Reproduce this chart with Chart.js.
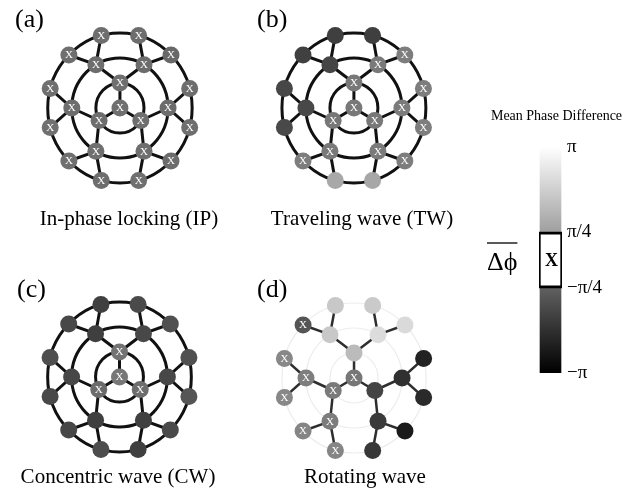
<!DOCTYPE html>
<html>
<head>
<meta charset="utf-8">
<script src="https://cdn.jsdelivr.net/npm/chart.js@4.4.1/dist/chart.umd.min.js"></script>
<style>
  html, body { margin: 0; padding: 0; background: #fff; }
  body { width: 633px; height: 503px; position: relative; overflow: hidden; }
  canvas { position: absolute; }
</style>
</head>
<body>
<canvas id="panelA" width="243" height="235" style="left:0;top:0"></canvas>
<canvas id="panelB" width="227" height="235" style="left:240px;top:0"></canvas>
<canvas id="panelC" width="219" height="233" style="left:0;top:270px"></canvas>
<canvas id="panelD" width="233" height="233" style="left:240px;top:270px"></canvas>
<canvas id="colorbar" width="153" height="290" style="left:480px;top:100px"></canvas>
<script>
const SERIF = "'Liberation Serif', 'Times New Roman', serif";

// Node order for every pattern:
//   hub; inner ring (90°, 210°, 330°);
//   middle ring, two children per inner node: 120, 60, 240, 180, 0, 300;
//   outer ring, two children per middle node: 135, 105, 75, 45, 255, 225, 195, 165, 15, 345, 315, 285.
const PANEL_LABELS = ['(a)', '(b)', '(c)', '(d)'];
const PANEL_CAPTIONS = ['In-phase locking (IP)', 'Traveling wave (TW)', 'Concentric wave (CW)', 'Rotating wave'];

// Mean phase difference of each node (radians)
const IP_PHASE = [-0.40,
  -0.40, -0.45, -0.42,
  -0.45, -0.48, -0.40, -0.45, -0.50, -0.42,
  -0.40, -0.42, -0.45, -0.58, -0.45, -0.40, -0.38, -0.40, -0.45, -0.42, -0.48, -0.40];
const TW_PHASE = [-0.18,
  -0.18, -0.20, -0.18,
  -1.45, -0.15, -0.15, -1.37, -0.10, -0.12,
  -1.56, -1.60, -1.60, -0.05, 1.00, -0.05, -1.35, -1.40, -0.05, -0.05, -0.05, 0.98];
const CW_PHASE = [-0.20,
  -0.30, -0.50, -0.45,
  -1.60, -1.37, -1.60, -1.40, -1.40, -1.57,
  -1.37, -1.57, -1.32, -1.17, -1.24, -1.39, -1.37, -1.22, -1.17, -1.05, -1.32, -1.57];
const RW_PHASE = [-0.21,
  1.47, -0.14, -1.47,
  1.79, 2.28, -0.09, -0.04, -1.96, -1.71,
  -1.05, 1.79, 1.84, 2.23, 0.14, 0.14, 0.21, 0.21, -2.30, -2.11, -2.50, -1.76];

// Nodes marked "X" (phase difference inside the locking window)
const IP_MARK = [1, 1, 1, 1, 1, 1, 1, 1, 1, 1, 1, 1, 1, 1, 1, 1, 1, 1, 1, 1, 1, 1];
const TW_MARK = [1, 1, 1, 1, 0, 1, 1, 0, 1, 1, 0, 0, 0, 1, 0, 1, 0, 0, 1, 1, 1, 0];
const CW_MARK = [1, 1, 1, 1, 0, 0, 0, 0, 0, 0, 0, 0, 0, 0, 0, 0, 0, 0, 0, 0, 0, 0];
const RW_MARK = [1, 0, 1, 0, 0, 0, 1, 1, 0, 0, 1, 0, 0, 0, 1, 1, 1, 1, 0, 0, 0, 0];

const COLORBAR_TICKS = [-Math.PI, -Math.PI / 4, Math.PI / 4, Math.PI];
const COLORBAR_TICK_LABELS = ['\u2212\u03c0', '\u2212\u03c0/4', '\u03c0/4', '\u03c0'];
const LOCK_WINDOW = [-Math.PI / 4, Math.PI / 4];
const COLORBAR_TITLE = 'Mean Phase Difference';
const COLORBAR_SYMBOL = '\u0394\u03d5';

// ---- drawing helpers ----
const RING_UNIT = 25;        // px per ring
const NODE_RADIUS = 8.5;
const RINGS = [1, 2, 3];

function greyLevel(v) {
  const t = (v + Math.PI) / (2 * Math.PI);
  return Math.round(255 * Math.min(1, Math.max(0, t)));
}
function greyFor(v) {
  const g = greyLevel(v);
  return `rgb(${g},${g},${g})`;
}

// Binary tree laid out on concentric rings: 1 hub, 3 inner, 6 middle, 12 outer.
function buildTree() {
  const nodes = [{ ring: 0, angle: 90, parent: -1 }];
  for (let k = 0; k < 3; k++) nodes.push({ ring: 1, angle: 90 + 120 * k, parent: 0 });
  const spread = { 2: 30, 3: 15 };
  for (let ring = 2; ring <= 3; ring++) {
    const parents = [];
    nodes.forEach((n, i) => { if (n.ring === ring - 1) parents.push(i); });
    parents.forEach(pi => {
      const a = nodes[pi].angle;
      nodes.push({ ring, angle: a + spread[ring], parent: pi });
      nodes.push({ ring, angle: a - spread[ring], parent: pi });
    });
  }
  return nodes.map(n => ({
    ...n,
    x: n.ring * Math.cos(n.angle * Math.PI / 180),
    y: n.ring * Math.sin(n.angle * Math.PI / 180)
  }));
}

const ringsPlugin = {
  id: 'rings',
  beforeDatasetsDraw(chart, args, opts) {
    const { x, y } = chart.scales;
    const ctx = chart.ctx;
    const cx = x.getPixelForValue(0), cy = y.getPixelForValue(0);
    ctx.save();
    ctx.strokeStyle = opts.color;
    ctx.lineWidth = opts.width;
    RINGS.forEach(r => {
      const rx = Math.abs(x.getPixelForValue(r) - cx);
      const ry = Math.abs(y.getPixelForValue(r) - cy);
      ctx.beginPath();
      ctx.ellipse(cx, cy, rx, ry, 0, 0, 2 * Math.PI);
      ctx.stroke();
    });
    ctx.restore();
  }
};

const marksPlugin = {
  id: 'nodeMarks',
  afterDatasetsDraw(chart, args, opts) {
    const meta = chart.getDatasetMeta(0);
    const ctx = chart.ctx;
    ctx.save();
    ctx.fillStyle = '#fff';
    ctx.font = `11px ${SERIF}`;
    ctx.textAlign = 'center';
    ctx.textBaseline = 'middle';
    meta.data.forEach((pt, i) => {
      if (opts.marks[i]) ctx.fillText('X', pt.x, pt.y + 0.5);
    });
    ctx.restore();
  }
};

const STYLES = {
  bold: { edge: '#111', edgeWidth: 3, ring: '#111', ringWidth: 3 },
  tree: { edge: '#2e2e2e', edgeWidth: 2.5, ring: '#ececec', ringWidth: 1.2 }
};

const TITLE_PAD_TOP = 7, TITLE_SIZE = 26, CAP_PAD_TOP = 8, CAP_SIZE = 21;

function makePanel(spec) {
  const tree = buildTree();
  const style = STYLES[spec.style];
  const nodes = {
    label: 'nodes',
    data: tree.map(n => ({ x: n.x, y: n.y })),
    pointRadius: NODE_RADIUS,
    pointBackgroundColor: spec.phase.map(greyFor),
    pointBorderWidth: 0,
    showLine: false,
    order: 0,
    clip: false
  };
  const edges = [];
  tree.forEach(n => {
    if (n.parent < 0) return;
    const p = tree[n.parent];
    edges.push({
      label: 'edge',
      data: [{ x: p.x, y: p.y }, { x: n.x, y: n.y }],
      showLine: true,
      pointRadius: 0,
      borderColor: style.edge,
      borderWidth: style.edgeWidth,
      order: 1,
      clip: false
    });
  });

  const canvas = document.getElementById(spec.id);
  const W = canvas.width, H = canvas.height;
  const left = parseFloat(canvas.style.left) || 0;
  const top = parseFloat(canvas.style.top) || 0;
  const areaT = TITLE_PAD_TOP + TITLE_SIZE;
  const areaB = H - (CAP_PAD_TOP + CAP_SIZE + spec.capPad);

  new Chart(canvas, {
    type: 'scatter',
    data: { datasets: [nodes, ...edges] },
    options: {
      responsive: false,
      animation: false,
      events: [],
      layout: { padding: { left: spec.padL, right: 0, top: 0, bottom: 0 } },
      scales: {
        x: { type: 'linear', display: false,
             min: (left + spec.padL - spec.cx) / RING_UNIT,
             max: (left + W - spec.cx) / RING_UNIT },
        y: { type: 'linear', display: false,
             min: (spec.cy - (top + areaB)) / RING_UNIT,
             max: (spec.cy - (top + areaT)) / RING_UNIT }
      },
      plugins: {
        legend: { display: false },
        tooltip: { enabled: false },
        title: {
          display: true, text: spec.label, align: 'start', color: '#000',
          font: { family: SERIF, size: TITLE_SIZE, weight: 'normal', lineHeight: 1 },
          padding: { top: TITLE_PAD_TOP, bottom: 0 }
        },
        subtitle: {
          display: true, position: 'bottom', text: spec.caption, color: '#000',
          font: { family: SERIF, size: CAP_SIZE, weight: 'normal', lineHeight: 1 },
          padding: { top: CAP_PAD_TOP, bottom: spec.capPad }
        },
        rings: { color: style.ring, width: style.ringWidth },
        nodeMarks: { marks: spec.marks }
      }
    },
    plugins: [ringsPlugin, marksPlugin]
  });
}

makePanel({ id: 'panelA', label: PANEL_LABELS[0], caption: PANEL_CAPTIONS[0], phase: IP_PHASE, marks: IP_MARK,
  style: 'bold', padL: 15, cx: 124, cy: 108, capPad: 5 });
makePanel({ id: 'panelB', label: PANEL_LABELS[1], caption: PANEL_CAPTIONS[1], phase: TW_PHASE, marks: TW_MARK,
  style: 'bold', padL: 17, cx: 358, cy: 108, capPad: 5 });
makePanel({ id: 'panelC', label: PANEL_LABELS[2], caption: PANEL_CAPTIONS[2], phase: CW_PHASE, marks: CW_MARK,
  style: 'bold', padL: 17, cx: 124, cy: 377, capPad: 15.5 });
makePanel({ id: 'panelD', label: PANEL_LABELS[3], caption: PANEL_CAPTIONS[3], phase: RW_PHASE, marks: RW_MARK,
  style: 'tree', padL: 17, cx: 358, cy: 378, capPad: 15.5 });

// ---- colour scale ----
const colorbarDecor = {
  id: 'colorbarDecor',
  afterDatasetsDraw(chart) {
    const ctx = chart.ctx;
    const y = chart.scales.y;
    const box = chart.getDatasetMeta(1).data[0];
    const mid = y.getPixelForValue(0);
    ctx.save();
    ctx.fillStyle = '#000';
    ctx.textAlign = 'center';
    ctx.textBaseline = 'middle';
    ctx.font = `bold 18px ${SERIF}`;
    ctx.fillText('X', box.x + 1, mid + 1);
    // symbol with overbar, left of the scale
    ctx.textAlign = 'left';
    ctx.textBaseline = 'alphabetic';
    ctx.font = `26px ${SERIF}`;
    const sx = chart.chartArea.left - 52;
    ctx.fillText(COLORBAR_SYMBOL, sx, mid + 10);
    const w = ctx.measureText(COLORBAR_SYMBOL).width;
    ctx.strokeStyle = '#000';
    ctx.lineWidth = 1.3;
    ctx.beginPath();
    ctx.moveTo(sx, mid - 17);
    ctx.lineTo(sx + w, mid - 17);
    ctx.stroke();
    ctx.restore();
  }
};

new Chart(document.getElementById('colorbar'), {
  type: 'bar',
  data: {
    labels: [''],
    datasets: [
      {
        label: 'scale',
        data: [[COLORBAR_TICKS[0], COLORBAR_TICKS[COLORBAR_TICKS.length - 1]]],
        yAxisID: 'y',
        barThickness: 21,
        grouped: false,
        borderWidth: 0,
        order: 1,
        backgroundColor(c) {
          const chart = c.chart;
          if (!chart.chartArea) return '#888';
          const y = chart.scales.y;
          const lo = COLORBAR_TICKS[0], hi = COLORBAR_TICKS[COLORBAR_TICKS.length - 1];
          const g = chart.ctx.createLinearGradient(0, y.getPixelForValue(hi), 0, y.getPixelForValue(lo));
          g.addColorStop(0, greyFor(hi));
          g.addColorStop(1, greyFor(lo));
          return g;
        }
      },
      {
        label: 'locking window',
        data: [LOCK_WINDOW],
        yAxisID: 'y',
        barThickness: 25,
        grouped: false,
        backgroundColor: '#fff',
        borderColor: '#000',
        borderWidth: 3,
        borderSkipped: false,
        order: 0
      }
    ]
  },
  options: {
    responsive: false,
    animation: false,
    events: [],
    layout: { padding: { left: 8, right: 8, top: 0, bottom: 17 } },
    scales: {
      x: { display: false },
      // empty spacer axis that keeps room for the symbol on the left
      spacer: {
        type: 'linear',
        position: 'left',
        display: true,
        grid: { display: false },
        border: { display: false },
        ticks: { display: false },
        afterFit(axis) { axis.width = 51; }
      },
      y: {
        position: 'right',
        min: COLORBAR_TICKS[0],
        max: COLORBAR_TICKS[COLORBAR_TICKS.length - 1],
        grid: { display: false, drawTicks: false },
        border: { display: false },
        afterBuildTicks(axis) { axis.ticks = COLORBAR_TICKS.map(v => ({ value: v })); },
        afterFit(axis) { axis.width = 63; },
        ticks: {
          padding: 5,
          color: '#000',
          font: { family: SERIF, size: 19 },
          callback: (v, i) => COLORBAR_TICK_LABELS[i]
        }
      }
    },
    plugins: {
      legend: { display: false },
      tooltip: { enabled: false },
      title: {
        display: true, text: COLORBAR_TITLE, color: '#000',
        font: { family: SERIF, size: 14, weight: 'normal', lineHeight: 1 },
        padding: { top: 9.5, bottom: 23.5 }
      }
    }
  },
  plugins: [colorbarDecor]
});
</script>
</body>
</html>
